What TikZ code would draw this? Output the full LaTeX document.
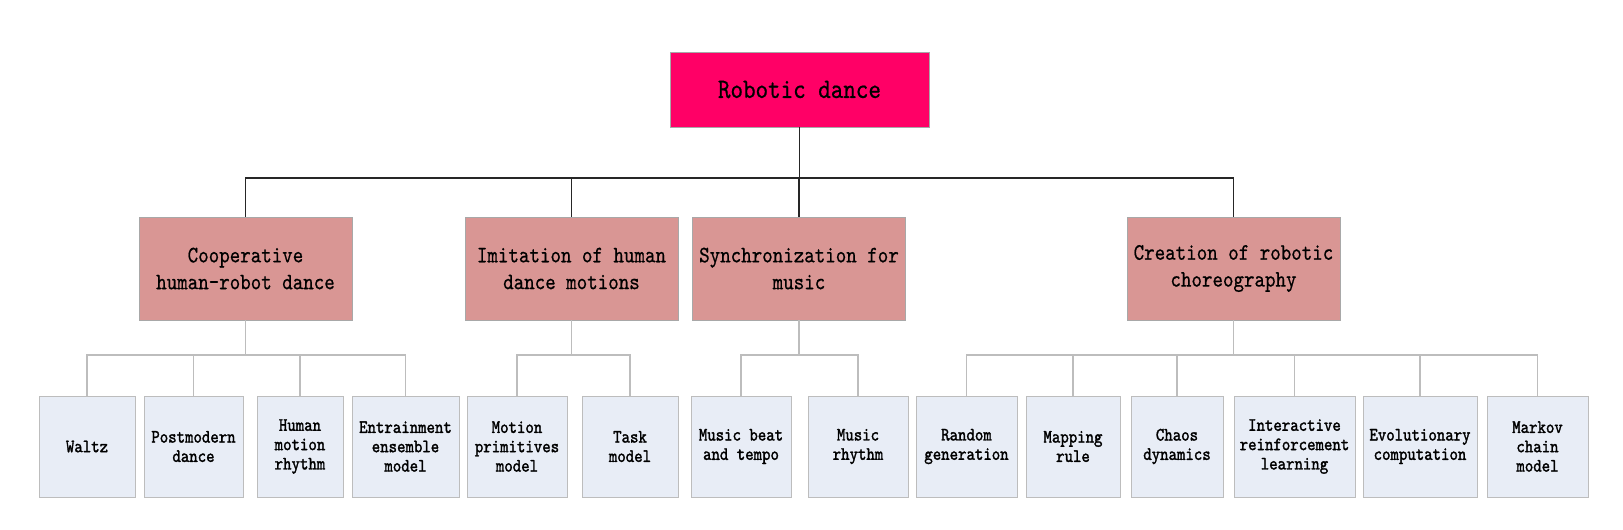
\documentclass[tikz,border=0pt]{standalone}
\usepackage{fontspec}
\usepackage{tikz}
\usetikzlibrary{calc}

\newfontfamily\chartfont{lmmono10-regular.otf}[FakeStretch=0.85, FakeBold=0.6]
\newfontfamily\leaffont{lmmono10-regular.otf}[FakeStretch=0.85, FakeBold=1.6]

\definecolor{rootpink}{HTML}{FF0066}
\definecolor{branchred}{HTML}{D99694}
\definecolor{leafblue}{HTML}{E8EDF6}
\definecolor{linegrey}{HTML}{BDBDBD}
\definecolor{boxgrey}{HTML}{A8A8A8}

\begin{document}
\begin{tikzpicture}[
        x=0.02cm, y=-0.02cm,
        rootbox/.style={
            rectangle,
            draw=boxgrey,
            fill=rootpink,
            align=center,
            minimum width=5.18cm,
            minimum height=1.5cm,
            font=\chartfont\fontsize{16}{19}\selectfont,
            inner sep=0pt
        },
        branchbox/.style={
            rectangle,
            draw=boxgrey,
            fill=branchred,
            align=center,
            minimum width=4.26cm,
            minimum height=2.06cm,
            font=\chartfont\fontsize{13.4}{15.3}\selectfont,
            inner sep=0pt
        },
        leafbox/.style={
            rectangle,
            draw=linegrey,
            fill=leafblue,
            align=center,
            minimum height=2.02cm,
            font=\leaffont\fontsize{10.75}{11}\selectfont,
            inner sep=0pt
        },
        trunk/.style={line width=1.1pt, black!85},
        twig/.style={line width=0.8pt, linegrey}
    ]
        \useasboundingbox (0,0) rectangle (1623,529);

        \node[rootbox] (root) at (799.5,89.5) {Robotic dance};

        \node[branchbox] (coop) at (245.5,268.5) {Cooperative\\human-robot dance};
        \node[branchbox] (imit) at (571.5,268.5) {Imitation of human\\dance motions};
        \node[branchbox] (sync) at (799,268.5) {Synchronization for\\music};
        \node[branchbox] (crea) at (1233.5,268.5) {Creation of robotic\\choreography};

        \node[leafbox, minimum width=1.92cm] (waltz) at (87,446.5) {Waltz};
        \node[leafbox, minimum width=1.98cm] (postm) at (193.5,446.5) {Postmodern\\dance};
        \node[leafbox, minimum width=1.72cm] (hmr) at (300,446.5) {Human\\motion\\rhythm};
        \node[leafbox, minimum width=2.14cm] (entr) at (405.5,446.5) {Entrainment\\ensemble\\model};
        \node[leafbox, minimum width=2.0cm] (motion) at (517,446.5) {Motion\\primitives\\model};
        \node[leafbox, minimum width=1.92cm] (task) at (630,446.5) {Task\\model};
        \node[leafbox, minimum width=2.0cm] (beat) at (741,446.5) {Music beat\\and tempo};
        \node[leafbox, minimum width=2.0cm] (rhythm) at (858,446.5) {Music\\rhythm};
        \node[leafbox, minimum width=2.02cm] (random) at (966.5,446.5) {Random\\generation};
        \node[leafbox, minimum width=1.88cm] (mapping) at (1073,446.5) {Mapping\\rule};
        \node[leafbox, minimum width=1.84cm] (chaos) at (1177,446.5) {Chaos\\dynamics};
        \node[leafbox, minimum width=2.42cm] (irl) at (1294.5,446.5) {Interactive\\reinforcement\\learning};
        \node[leafbox, minimum width=2.28cm] (evo) at (1420,446.5) {Evolutionary\\computation};
        \node[leafbox, minimum width=2.02cm] (markov) at (1537.5,446.5) {Markov\\chain\\model};

        % top level
        \draw[trunk] (root.south) -- (root.south |- 0,178);
        \draw[trunk] (coop.north) |- (root.south |- 0,178);
        \draw[trunk] (imit.north) |- (root.south |- 0,178);
        \draw[trunk] (sync.north) |- (root.south |- 0,178);
        \draw[trunk] (crea.north) |- (root.south |- 0,178);

        % leaves
        \draw[twig] (coop.south) -- (coop.south |- 0,355);
        \draw[twig] (waltz.north) |- (coop.south |- 0,355);
        \draw[twig] (postm.north) |- (coop.south |- 0,355);
        \draw[twig] (hmr.north) |- (coop.south |- 0,355);
        \draw[twig] (entr.north) |- (coop.south |- 0,355);

        \draw[twig] (imit.south) -- (imit.south |- 0,355);
        \draw[twig] (motion.north) |- (imit.south |- 0,355);
        \draw[twig] (task.north) |- (imit.south |- 0,355);

        \draw[twig] (sync.south) -- (sync.south |- 0,355);
        \draw[twig] (beat.north) |- (sync.south |- 0,355);
        \draw[twig] (rhythm.north) |- (sync.south |- 0,355);

        \draw[twig] (crea.south) -- (crea.south |- 0,355);
        \draw[twig] (random.north) |- (crea.south |- 0,355);
        \draw[twig] (mapping.north) |- (crea.south |- 0,355);
        \draw[twig] (chaos.north) |- (crea.south |- 0,355);
        \draw[twig] (irl.north) |- (crea.south |- 0,355);
        \draw[twig] (evo.north) |- (crea.south |- 0,355);
        \draw[twig] (markov.north) |- (crea.south |- 0,355);
    \end{tikzpicture}
\end{document}
